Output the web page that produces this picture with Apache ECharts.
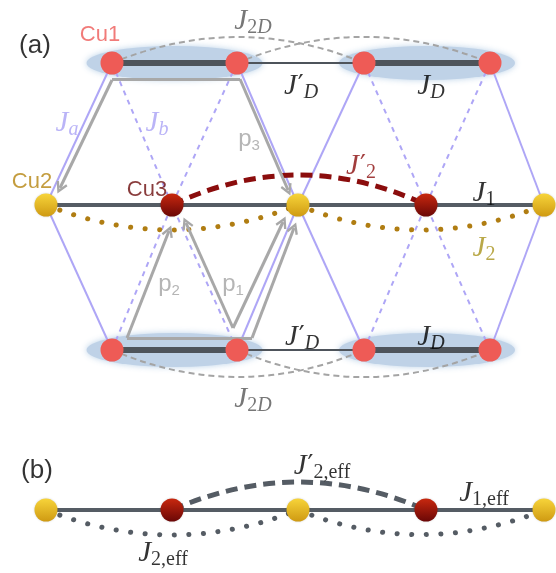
<!DOCTYPE html>
<html><head><meta charset="utf-8">
<script src="https://cdn.jsdelivr.net/npm/echarts@6/dist/echarts.min.js"></script>
<style>html,body{margin:0;padding:0;background:#fff}#c{width:556px;height:573px}</style>
</head><body><div id="c"></div>
<script>
// ---------------- data (lattice geometry in axis units) ----------------
const rowTop = 63, rowChain = 205, rowBottom = 350, rowEff = 510;
const cu1X = [112, 237, 364, 490];
const chainX = [46, 172, 298, 426, 544];
const chainSite = ['Cu2', 'Cu3', 'Cu2', 'Cu3', 'Cu2'];
const dimers = [[0, 1], [2, 3]];          // J_D (thick)
const interDimer = [[1, 2]];              // J'_D (thin)
const jaBonds = [[0, 0], [1, 2], [2, 2], [3, 4]]; // cu1 idx -> chain idx (solid)
const jbBonds = [[0, 1], [1, 1], [2, 3], [3, 3]]; // (dashed)
const j2Arcs = [[0, 2, -0.198], [2, 4, -0.203]];
const j2pArcs = [[1, 3, 0.236]];
const j2dTopArcs = [[0, 2, 0.206], [1, 3, 0.206]];
const j2dBotArcs = [[0, 2, -0.214], [1, 3, -0.214]];
const effDashed = [[1, 3, 0.22]];
const effDotted = [[0, 2, -0.198], [2, 4, -0.2]];
const hopSegments = [[[112, 79], [240, 79]], [[127, 338], [252, 338]]];
const hopArrows = [
  [[112, 80], [60, 188]], [[240, 79], [288, 190]],
  [[127, 338], [169, 231]], [[252, 338], [294, 228]],
  [[233, 328], [186, 223]], [[233, 328], [283, 222]]
];
const textLabels = [
  [35, 46, '{big|(a)}', '#000'],
  [100, 35, 'Cu1', '#ee5a57'],
  [32, 182, 'Cu2', '#b5840f'],
  [147, 190, 'Cu3', '#6b0b0b'],
  [253, 21, '{J|J}{sn|2}{si|D}', '#555'],
  [301, 86, '{J|J}{pr|′}{si|D}', '#000'],
  [431, 86, '{J|J}{si|D}', '#000'],
  [67, 123, '{J|J}{si|a}', '#a9a1f5'],
  [157, 123, '{J|J}{si|b}', '#a9a1f5'],
  [249, 139, '{p|p}{pn|3}', '#a3a3a3'],
  [361, 166, '{J|J}{pr|′}{sn|2}', '#8b0d0d'],
  [484, 193, '{J|J}{sn|1}', '#000'],
  [484, 248, '{J|J}{sn|2}', '#a8921a'],
  [169, 284, '{p|p}{pn|2}', '#a3a3a3'],
  [233, 284, '{p|p}{pn|1}', '#a3a3a3'],
  [302, 337, '{J|J}{pr|′}{si|D}', '#000'],
  [431, 337, '{J|J}{si|D}', '#000'],
  [253, 399, '{J|J}{sn|2}{si|D}', '#555'],
  [37, 471, '{big|(b)}', '#000'],
  [163, 553, '{J|J}{sn|2,eff}', '#000'],
  [322, 466, '{J|J}{pr|′}{sn|2,eff}', '#000'],
  [484, 493, '{J|J}{sn|1,eff}', '#000']
];

// ---------------- build ----------------
const chart = echarts.init(document.getElementById('c'));
const lav = '#aea6f6', darkBar = '#4e545b', chainCol = '#555c64', hopCol = '#a8a8a8';
const rowsCu1 = [rowTop, rowBottom];

const seg = (a, b, extra) => Object.assign({coords: [a, b]}, extra || {});
const arcs = (list, xs, y) => list.map(([i, j, c]) => ({coords: [[xs[i], y], [xs[j], y]], lineStyle: {curveness: c}}));

const jaData = [], jbData = [], barData = [], thinData = [];
rowsCu1.forEach(y => {
  jaBonds.forEach(([i, j]) => jaData.push(seg([cu1X[i], y], [chainX[j], rowChain])));
  jbBonds.forEach(([i, j]) => jbData.push(seg([cu1X[i], y], [chainX[j], rowChain])));
  dimers.forEach(([i, j]) => barData.push(seg([cu1X[i], y], [cu1X[j], y])));
  interDimer.forEach(([i, j]) => thinData.push(seg([cu1X[i], y], [cu1X[j], y])));
});
const ellipseData = [];
rowsCu1.forEach(y => dimers.forEach(([i, j]) => ellipseData.push([(cu1X[i] + cu1X[j]) / 2, y])));

const chevron = 'path://M0,9 L5,0 L10,9 L8.3,10 L5,4 L1.7,10 Z';
let zc = 1;
const base = () => ({coordinateSystem: 'cartesian2d', silent: true, animation: false, z: zc++});
const linesSeries = (data, style, extra) => Object.assign({type: 'lines', data: data, lineStyle: Object.assign({opacity: 1}, style), symbol: 'none'}, base(), extra || {});

const nodeColor = site => site === 'Cu2'
  ? {type: 'linear', x: 0, y: 0, x2: 0, y2: 1, colorStops: [{offset: 0, color: '#f7d43a'}, {offset: 1, color: '#cf9a12'}]}
  : {type: 'linear', x: 0, y: 0, x2: 0, y2: 1, colorStops: [{offset: 0, color: '#c8280f'}, {offset: 1, color: '#6a0706'}]};
const chainNodes = y => chainX.map((x, k) => ({value: [x, y], itemStyle: {color: nodeColor(chainSite[k]), opacity: 1}}));
const cu1Nodes = [];
rowsCu1.forEach(y => cu1X.forEach(x => cu1Nodes.push([x, y])));

const rich = {
  big: {fontFamily: 'Liberation Sans', fontSize: 26, lineHeight: 30},
  J: {fontFamily: 'Liberation Serif', fontStyle: 'italic', fontSize: 29, lineHeight: 34, verticalAlign: 'middle'},
  pr: {fontFamily: 'DejaVu Serif', fontSize: 26, lineHeight: 34, verticalAlign: 'middle', padding: [0, 0, 0, 1]},
  si: {fontFamily: 'Liberation Serif', fontStyle: 'italic', fontSize: 20, lineHeight: 20, verticalAlign: 'bottom'},
  sn: {fontFamily: 'Liberation Serif', fontSize: 20, lineHeight: 20, verticalAlign: 'bottom'},
  p: {fontFamily: 'Liberation Sans', fontSize: 24, lineHeight: 28, verticalAlign: 'middle'},
  pn: {fontFamily: 'Liberation Sans', fontSize: 15, lineHeight: 17, verticalAlign: 'bottom'}
};

const option = {
  backgroundColor: '#fff',
  animation: false,
  grid: {left: 0, right: 0, top: 0, bottom: 0},
  xAxis: {type: 'value', min: 0, max: 556, show: false},
  yAxis: {type: 'value', min: 0, max: 573, inverse: true, show: false},
  series: [
    Object.assign({type: 'scatter', data: ellipseData, symbol: 'circle', symbolSize: [176, 34],
      itemStyle: {color: '#bfd2e7', opacity: 1, shadowBlur: 6, shadowColor: 'rgba(180,205,230,0.9)'}}, base()),
    linesSeries(jaData, {color: lav, width: 2}),
    linesSeries(jbData, {color: lav, width: 2, type: [5, 5]}),
    linesSeries(arcs(j2dTopArcs, cu1X, rowTop).concat(arcs(j2dBotArcs, cu1X, rowBottom)), {color: '#a4a4a4', width: 2, type: [6, 4]}),
    linesSeries(thinData, {color: darkBar, width: 2}),
    linesSeries(barData, {color: darkBar, width: 6}),
    linesSeries([seg([chainX[0], rowChain], [chainX[chainX.length - 1], rowChain])], {color: chainCol, width: 4}),
    linesSeries(arcs(j2Arcs, chainX, rowChain), {color: '#b07d12', width: 5, type: [0.1, 14.5], cap: 'round'}),
    linesSeries(arcs(j2pArcs, chainX, rowChain), {color: '#8b0d0d', width: 5, type: [12, 7]}),
    linesSeries(hopSegments.map(s => seg(s[0], s[1])), {color: hopCol, width: 3}),
    linesSeries(hopArrows.map(s => seg(s[0], s[1])), {color: hopCol, width: 3},
      {symbol: ['none', chevron], symbolSize: [13, 12]}),
    linesSeries([seg([chainX[0], rowEff], [chainX[chainX.length - 1], rowEff])], {color: chainCol, width: 4}),
    linesSeries(arcs(effDashed, chainX, rowEff), {color: chainCol, width: 5, type: [12, 7]}),
    linesSeries(arcs(effDotted, chainX, rowEff), {color: chainCol, width: 5, type: [0.1, 14.5], cap: 'round'}),
    Object.assign({type: 'scatter', data: cu1Nodes, symbolSize: 23, itemStyle: {color: '#ee5b56', opacity: 1}}, base()),
    Object.assign({type: 'scatter', data: chainNodes(rowChain).concat(chainNodes(rowEff)), symbolSize: 23,
      itemStyle: {opacity: 1, shadowBlur: 2, shadowColor: 'rgba(0,0,0,0.2)'}}, base()),
    Object.assign({type: 'scatter', symbolSize: 0,
      data: textLabels.map(([x, y, t, c]) => ({value: [x, y], label: {formatter: t, color: c}})),
      label: {show: true, position: 'inside', fontFamily: 'Liberation Sans', fontSize: 22, rich: rich}}, base())
  ]
};
chart.setOption(option);
</script></body></html>
